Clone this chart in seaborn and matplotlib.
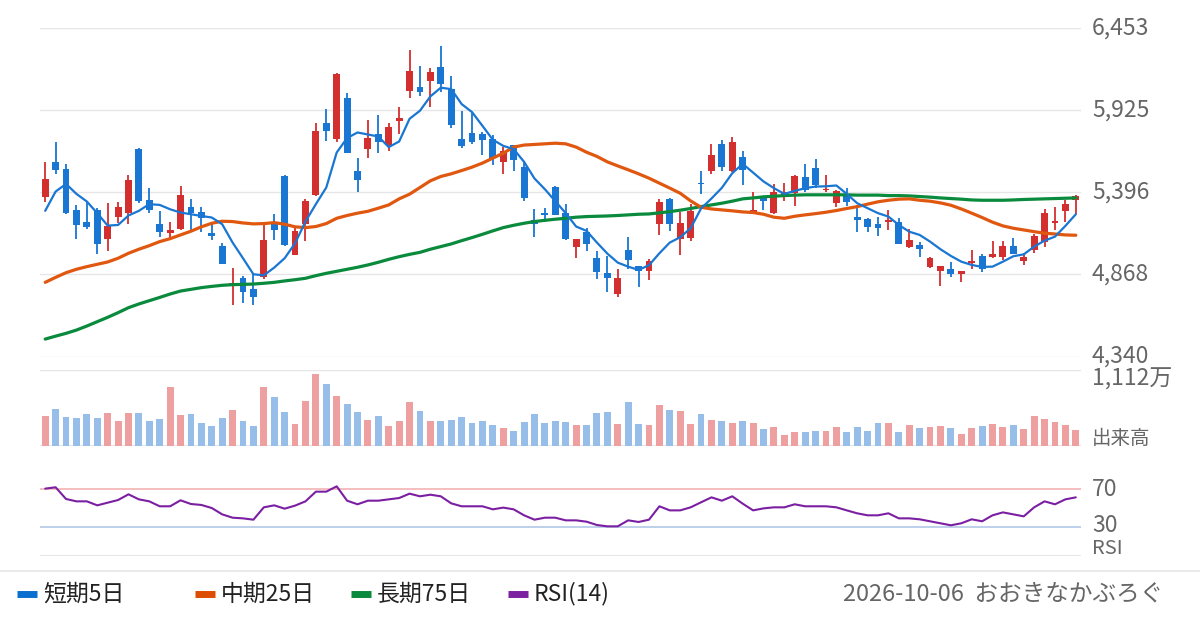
import pandas as pd
import seaborn as sns
import matplotlib.pyplot as plt
from matplotlib.lines import Line2D

# daily candles (yen)
opens = [5369, 5592, 5547, 5283, 5206, 5283, 5096, 5240, 5266, 5676,
         5345, 5193, 5137, 5163, 5302, 5270, 5135, 5051, 4798, 4845,
         4776, 4849, 5206, 5502, 4995, 5191, 5378, 5843, 5742, 6004,
         5534, 5672, 5773, 5700, 5858, 6045, 6075, 6110, 6204, 6062,
         5740, 5779, 5773, 5740, 5592, 5700, 5560, 5219, 5266, 5431,
         5264, 5047, 5143, 4974, 4877, 4742, 5025, 4922, 4892, 5195,
         5354, 5094, 5105, 5455, 5530, 5708, 5530, 5624, 5259, 5360,
         5264, 5382, 5390, 5496, 5554, 5408, 5330, 5373, 5238, 5225,
         5191, 5204, 5206, 5047, 5058, 4918, 4892, 4901, 4873, 4944,
         4987, 4982, 4982, 5051, 4957, 5025, 5075, 5201, 5279, 5347]
highs = [5592, 5721, 5579, 5315, 5337, 5296, 5328, 5332, 5508, 5680,
         5425, 5277, 5206, 5438, 5354, 5302, 5199, 5068, 4910, 4858,
         4875, 5193, 5257, 5505, 5178, 5352, 5843, 5934, 6165, 6037,
         5618, 5863, 5895, 5843, 5946, 6314, 6211, 6193, 6339, 6146,
         5921, 5906, 5785, 5764, 5689, 5703, 5588, 5289, 5296, 5434,
         5322, 5099, 5169, 5019, 4987, 4901, 5107, 4925, 4965, 5354,
         5358, 5272, 5322, 5532, 5708, 5734, 5753, 5663, 5395, 5369,
         5448, 5459, 5505, 5579, 5612, 5508, 5412, 5423, 5313, 5229,
         5238, 5283, 5234, 5158, 5079, 4977, 4924, 4946, 4890, 5025,
         4997, 5083, 5083, 5103, 5004, 5128, 5289, 5302, 5345, 5376]
lows = [5337, 5517, 5255, 5096, 5163, 5002, 5021, 5197, 5195, 5326,
        5262, 5111, 5100, 5154, 5141, 5143, 5090, 4933, 4671, 4686,
        4671, 4841, 5090, 5053, 4991, 5085, 5371, 5723, 5717, 5648,
        5399, 5620, 5652, 5665, 5773, 6000, 6013, 5942, 6043, 5807,
        5678, 5710, 5633, 5573, 5511, 5536, 5343, 5111, 5208, 5247,
        5088, 4976, 5021, 4841, 4755, 4720, 4905, 4789, 4834, 5122,
        5148, 4995, 5083, 5388, 5515, 5532, 5528, 5440, 5257, 5283,
        5257, 5343, 5309, 5401, 5423, 5399, 5300, 5309, 5143, 5141,
        5118, 5154, 5063, 5040, 4982, 4912, 4796, 4849, 4819, 4905,
        4886, 4972, 4961, 4998, 4931, 5006, 5047, 5154, 5204, 5255]
closes = [5483, 5541, 5266, 5189, 5176, 5066, 5182, 5302, 5476, 5341,
          5285, 5143, 5154, 5380, 5262, 5229, 5118, 4937, 4815, 4757,
          4725, 5090, 5156, 5058, 5150, 5341, 5792, 5788, 6159, 5652,
          5478, 5747, 5717, 5818, 5876, 6178, 6039, 6172, 6090, 5826,
          5695, 5717, 5730, 5616, 5659, 5607, 5362, 5193, 5253, 5251,
          5096, 5096, 5066, 4886, 4847, 4845, 4963, 4888, 4955, 5335,
          5195, 5199, 5277, 5448, 5637, 5562, 5721, 5539, 5283, 5343,
          5399, 5395, 5502, 5414, 5442, 5420, 5405, 5337, 5221, 5176,
          5169, 5219, 5066, 5090, 5034, 4974, 4922, 4869, 4888, 4952,
          4903, 5000, 5051, 5000, 4980, 5116, 5264, 5212, 5322, 5373]

# moving averages
ma5 = [5277, 5401, 5450, 5386, 5337, 5262, 5182, 5186, 5247, 5277,
       5320, 5315, 5287, 5266, 5255, 5244, 5234, 5191, 5073, 4972,
       4869, 4862, 4912, 4972, 5068, 5208, 5320, 5427, 5652, 5745,
       5781, 5768, 5755, 5687, 5723, 5869, 5921, 6013, 6069, 6060,
       5964, 5912, 5824, 5734, 5695, 5674, 5592, 5485, 5416, 5339,
       5262, 5176, 5148, 5073, 5002, 4944, 4918, 4897, 4927, 5004,
       5073, 5107, 5165, 5292, 5356, 5425, 5519, 5579, 5523, 5466,
       5423, 5386, 5405, 5423, 5433, 5435, 5440, 5386, 5326, 5294,
       5262, 5240, 5186, 5143, 5122, 5079, 5030, 4987, 4950, 4929,
       4916, 4918, 4950, 4985, 4997, 5047, 5085, 5111, 5180, 5255]
ma25 = [4817, 4849, 4879, 4901, 4918, 4933, 4948, 4972, 5004, 5030,
        5053, 5079, 5098, 5122, 5146, 5174, 5197, 5210, 5208, 5199,
        5193, 5195, 5201, 5191, 5174, 5169, 5176, 5195, 5229, 5247,
        5262, 5274, 5294, 5315, 5354, 5384, 5427, 5470, 5498, 5515,
        5536, 5558, 5584, 5616, 5648, 5687, 5700, 5704, 5708, 5712,
        5708, 5687, 5654, 5627, 5592, 5566, 5541, 5515, 5487, 5455,
        5423, 5390, 5341, 5300, 5289, 5283, 5277, 5270, 5266, 5255,
        5236, 5229, 5242, 5251, 5259, 5268, 5279, 5292, 5304, 5320,
        5335, 5345, 5352, 5354, 5345, 5339, 5328, 5313, 5289, 5262,
        5234, 5204, 5180, 5165, 5154, 5143, 5133, 5128, 5122, 5120]
ma75 = [4452, 4471, 4489, 4510, 4536, 4564, 4592, 4622, 4654, 4678,
        4699, 4720, 4742, 4761, 4772, 4783, 4791, 4798, 4802, 4804,
        4806, 4811, 4817, 4826, 4834, 4843, 4860, 4875, 4888, 4901,
        4914, 4929, 4946, 4965, 4982, 4997, 5010, 5030, 5047, 5064,
        5085, 5105, 5126, 5148, 5169, 5184, 5197, 5208, 5216, 5223,
        5229, 5236, 5240, 5242, 5244, 5247, 5251, 5255, 5257, 5264,
        5272, 5281, 5292, 5304, 5315, 5326, 5339, 5354, 5360, 5367,
        5371, 5375, 5378, 5380, 5380, 5380, 5380, 5380, 5378, 5378,
        5378, 5375, 5375, 5373, 5369, 5365, 5360, 5356, 5352, 5347,
        5345, 5345, 5345, 5347, 5350, 5352, 5354, 5356, 5358, 5360]

# volume in 万株
volume = [441, 544, 426, 412, 470, 412, 485, 367, 485, 485,
          367, 397, 867, 456, 470, 338, 294, 412, 529, 367,
          294, 867, 720, 500, 323, 661, 1058, 911, 735, 617,
          500, 382, 441, 294, 367, 647, 514, 367, 367, 382,
          426, 338, 367, 309, 265, 220, 353, 470, 338, 367,
          353, 309, 309, 485, 500, 323, 647, 323, 309, 603,
          529, 514, 323, 470, 382, 367, 338, 367, 338, 250,
          279, 162, 206, 206, 220, 220, 279, 206, 279, 220,
          338, 338, 206, 309, 265, 279, 294, 265, 176, 265,
          294, 323, 279, 309, 250, 441, 397, 353, 309, 235]

rsi14 = [70.4, 71.8, 59.5, 57.0, 57.0, 52.8, 55.6, 58.4, 64.4, 59.1,
         57.0, 51.8, 51.8, 58.1, 54.2, 53.2, 50.0, 43.3, 39.8, 39.1,
         37.7, 50.7, 52.8, 49.3, 52.5, 57.0, 67.2, 67.2, 72.8, 57.7,
         53.9, 57.7, 57.7, 59.1, 60.5, 65.1, 62.3, 64.0, 62.3, 54.9,
         51.8, 51.8, 51.8, 48.6, 50.4, 48.6, 42.3, 37.7, 39.8, 39.8,
         37.0, 37.0, 35.6, 32.1, 30.7, 30.7, 37.0, 35.3, 37.7, 51.8,
         47.5, 47.5, 50.7, 56.0, 61.2, 57.7, 62.3, 54.6, 47.5, 49.6,
         50.7, 50.7, 53.9, 51.8, 51.8, 51.8, 50.7, 47.5, 44.4, 42.3,
         42.3, 44.4, 39.1, 39.1, 38.1, 36.0, 33.9, 31.8, 33.9, 38.1,
         36.0, 42.3, 45.4, 43.3, 41.2, 50.7, 57.0, 53.9, 59.1, 61.2]

price_ticks = [6453, 5925, 5396, 4868, 4340]
vol_top = 1112
legend_labels = ["短期5日", "中期25日", "長期75日", "RSI(14)"]
footer = "2026-10-06  おおきなかぶろぐ"

sns.set_theme(style="white")
plt.rcParams["font.family"] = ["Noto Sans CJK JP", "DejaVu Sans"]

df = pd.DataFrame({"day": range(len(closes)), "open": opens, "high": highs,
                   "low": lows, "close": closes, "ma5": ma5, "ma25": ma25,
                   "ma75": ma75, "volume": volume, "rsi": rsi14})
df["dir"] = ["up" if c >= o else "down" for o, c in zip(df.open, df.close)]

RED, BLUE = "#d32f2f", "#1976d2"
C5, C25, C75, CRSI = "#1976d2", "#e0570f", "#0a8a3c", "#7b1fa2"
GRID = "#e6e6e6"
TXT = "#666666"

W, H = 1200, 630
fig = plt.figure(figsize=(12, 6.3), dpi=100)


def box(x0, y0, x1, y1):
    return [x0 / W, 1 - y1 / H, (x1 - x0) / W, (y1 - y0) / H]


def fy(y):
    return 1 - y / H


ax = fig.add_axes(box(40, 28, 1081, 356.5))
axv = fig.add_axes(box(40, 370, 1081, 446))
axr = fig.add_axes(box(40, 460.5, 1081, 555.5))
xlim = (-0.5, len(df) - 0.5)

# price panel
for t in price_ticks:
    ax.axhline(t, color=GRID, lw=1, zorder=0)
cols = [RED if d == "up" else BLUE for d in df.dir]
ax.vlines(df.day, df.low, df.high, colors=cols, lw=1.3, zorder=2)
body_lo = df[["open", "close"]].min(axis=1)
body_h = (df.close - df.open).abs().clip(lower=8)
ax.bar(df.day, body_h, bottom=body_lo, width=0.66, color=cols, lw=0, zorder=3)
sns.lineplot(data=df, x="day", y="ma75", ax=ax, color=C75, lw=2.3, zorder=4)
sns.lineplot(data=df, x="day", y="ma25", ax=ax, color=C25, lw=2.3, zorder=4)
sns.lineplot(data=df, x="day", y="ma5", ax=ax, color=C5, lw=1.6, zorder=5)
ax.set_xlim(*xlim)
ax.set_ylim(min(price_ticks), max(price_ticks))

# volume panel
axv.axhline(vol_top, color=GRID, lw=1, zorder=0)
axv.axhline(0, color=GRID, lw=1.5, zorder=0)
sns.barplot(data=df, x="day", y="volume", hue="dir", ax=axv,
            palette={"up": "#eea0a0", "down": "#96bee9"}, native_scale=True,
            dodge=False, width=0.66, errorbar=None, legend=False,
            linewidth=0, saturation=1)
axv.set_xlim(*xlim)
axv.set_ylim(0, vol_top)

# RSI panel
axr.axhline(70, color="#f3b3b3", lw=1.2)
axr.axhline(30, color="#b3c8e6", lw=1.2)
axr.axhline(0, color=GRID, lw=1.5)
sns.lineplot(data=df, x="day", y="rsi", ax=axr, color=CRSI, lw=1.5)
axr.set_xlim(*xlim)
axr.set_ylim(0, 100)

for a in (ax, axv, axr):
    a.axis("off")

# right-side labels
lx = 1092 / W
NUM = 16.5
for t in price_ticks:
    y = 28 + (max(price_ticks) - t) / (max(price_ticks) - min(price_ticks)) * 328.5
    fig.text(lx, fy(y), f"{t:,}", ha="left", va="center", fontsize=NUM, color=TXT)
fig.text(lx, fy(379), f"{vol_top:,}万", ha="left", va="center", fontsize=NUM, color=TXT)
fig.text(lx, fy(439), "出来高", ha="left", va="center", fontsize=14, color=TXT)
fig.text(lx, fy(489), "70", ha="left", va="center", fontsize=NUM, color=TXT)
fig.text(lx, fy(525), "30", ha="left", va="center", fontsize=NUM, color=TXT)
fig.text(lx, fy(549), "RSI", ha="left", va="center", fontsize=14.5, color=TXT)

# footer
fig.add_artist(Line2D([0, 1], [fy(571), fy(571)], color=GRID, lw=1.2))
leg_x = [17, 195, 351, 508]
leg_c = ["#0b6fd0", "#dc4d00", "#0a8a3c", "#7b22a0"]
for x0, c, lab in zip(leg_x, leg_c, legend_labels):
    fig.add_artist(Line2D([x0 / W, (x0 + 20) / W], [fy(594), fy(594)],
                          color=c, lw=5, solid_capstyle="butt"))
    fig.text((x0 + 26) / W, fy(594), lab, ha="left", va="center",
             fontsize=16.5, color="#222222")
fig.text(1163 / W, fy(594), footer, ha="right", va="center", fontsize=17, color=TXT)

fig.savefig("out.png", dpi=100)
